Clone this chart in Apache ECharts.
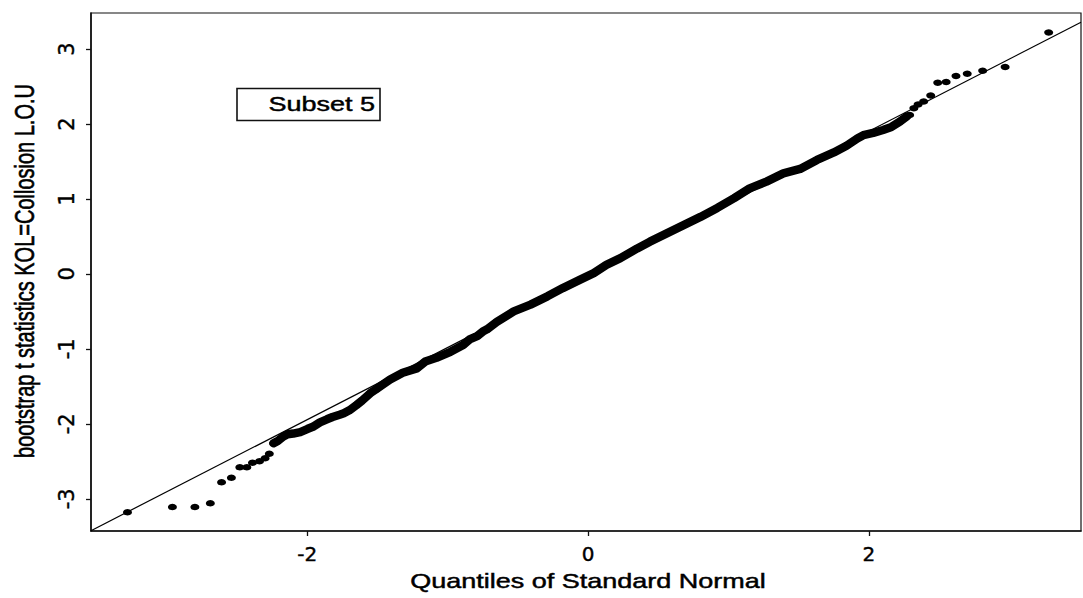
<!DOCTYPE html>
<html>
<head>
<meta charset="utf-8">
<title>Subset 5 – normal QQ plot</title>
<script src="https://cdn.jsdelivr.net/npm/echarts@6/dist/echarts.min.js"></script>
<style>
  html, body { margin: 0; padding: 0; background: #fff; }
  #chart { width: 1083px; height: 598px; }
</style>
</head>
<body>
<div id="chart"></div>
<script>
// Normal quantile plot of bootstrap t statistics (Subset 5).
// Lower tail: isolated points below the reference line.
const lowerX = [-3.28, -2.96, -2.80, -2.69, -2.61, -2.54, -2.48, -2.43, -2.39, -2.34, -2.30, -2.27];
const lowerY = [-3.18, -3.11, -3.11, -3.06, -2.78, -2.72, -2.58, -2.58, -2.52, -2.50, -2.46, -2.40];

// Central body: points so dense that they merge into a continuous band.
const bandX = [-2.24, -2.21, -2.17, -2.14, -2.10, -2.05, -2.00, -1.96, -1.91, -1.86,
               -1.82, -1.77, -1.74, -1.70, -1.65, -1.61, -1.55, -1.51, -1.48, -1.41,
               -1.32, -1.22, -1.16, -1.08, -0.98, -0.89, -0.84, -0.79, -0.75, -0.72,
               -0.65, -0.53, -0.41, -0.29, -0.18, -0.06, 0.04, 0.13, 0.23, 0.35,
               0.44, 0.56, 0.68, 0.80, 0.92, 1.04, 1.15, 1.27, 1.39, 1.51,
               1.63, 1.75, 1.84, 1.92, 1.96, 2.03, 2.10, 2.16, 2.22, 2.27];
const bandY = [-2.26, -2.23, -2.17, -2.14, -2.13, -2.11, -2.07, -2.04, -1.98, -1.94,
               -1.91, -1.88, -1.86, -1.82, -1.75, -1.69, -1.59, -1.54, -1.50, -1.41,
               -1.32, -1.26, -1.17, -1.12, -1.04, -0.95, -0.87, -0.83, -0.77, -0.74,
               -0.64, -0.50, -0.41, -0.30, -0.19, -0.08, 0.01, 0.12, 0.21, 0.34,
               0.43, 0.54, 0.65, 0.76, 0.88, 1.01, 1.14, 1.23, 1.34, 1.40,
               1.52, 1.62, 1.71, 1.81, 1.85, 1.88, 1.92, 1.96, 2.03, 2.10];

// Upper tail: isolated points above the reference line.
const upperX = [2.29, 2.32, 2.35, 2.39, 2.44, 2.49, 2.55, 2.62, 2.70, 2.81, 2.97, 3.28];
const upperY = [2.12, 2.21, 2.26, 2.30, 2.38, 2.55, 2.56, 2.64, 2.67, 2.71, 2.76, 3.22];

// Reference line through the quartiles (intercept, slope).
const refIntercept = -0.02;
const refSlope = 0.962;

// Axis extents and tick positions.
const xRange = [-3.54, 3.51];
const yRange = [-3.43, 3.48];
const xTicks = [-2, 0, 2];
const yTicks = [-3, -2, -1, 0, 1, 2, 3];

const xTitle = 'Quantiles of Standard Normal';
const yTitle = 'bootstrap t statistics KOL=Collosion L.O.U';
const panelLabel = 'Subset 5';

const pair = (xs, ys) => xs.map((x, i) => [x, ys[i]]);
const allPoints = pair(lowerX, lowerY).concat(pair(bandX, bandY), pair(upperX, upperY));
const refLine = xRange.map(x => [x, refIntercept + refSlope * x]);

const TEXT_FONT = '"Liberation Sans", Arial, Helvetica, sans-serif';
const TICK_FONT = '"DejaVu Sans", "Liberation Sans", sans-serif';
const STRETCH = 1.35;   // wide lettering, matching the wide plot symbols
const INK = '#000';

const titleStyle = (text, align) => ({
  text: text, font: '20px ' + TEXT_FONT, fill: INK,
  stroke: INK, lineWidth: 0.45,
  textAlign: align, textVerticalAlign: 'middle'
});

const chart = echarts.init(document.getElementById('chart'), null, { renderer: 'svg' });

chart.setOption({
  animation: false,
  backgroundColor: '#ffffff',
  grid: {
    left: 91, right: 2, top: 13, bottom: 67,
    show: true, borderColor: '#111', borderWidth: 1.2, backgroundColor: 'transparent'
  },
  xAxis: {
    type: 'value', min: xRange[0], max: xRange[1],
    axisLine: { show: true, onZero: false, lineStyle: { color: '#111', width: 1.6 } },
    axisTick: { show: true, inside: false, length: 5, customValues: xTicks, lineStyle: { color: '#111', width: 1.3 } },
    axisLabel: { show: true, customValues: xTicks, margin: 13, color: INK,
                 fontFamily: TICK_FONT, fontSize: 20,
                 textBorderColor: INK, textBorderWidth: 0.4 },
    splitLine: { show: false }
  },
  yAxis: {
    type: 'value', min: yRange[0], max: yRange[1],
    axisLine: { show: true, onZero: false, lineStyle: { color: '#111', width: 1.6 } },
    axisTick: { show: true, inside: false, length: 5, customValues: yTicks, lineStyle: { color: '#111', width: 1.3 } },
    axisLabel: { show: true, customValues: yTicks, rotate: 90, margin: 14, color: INK,
                 fontFamily: TICK_FONT, fontSize: 21,
                 textBorderColor: INK, textBorderWidth: 0.4 },
    splitLine: { show: false }
  },
  series: [
    {
      name: 'reference', type: 'line', data: refLine, symbol: 'none',
      lineStyle: { color: INK, width: 1.2 }, silent: true, z: 2
    },
    {
      name: 'band', type: 'line', data: pair(bandX, bandY), symbol: 'none',
      lineStyle: { color: INK, width: 8.5, cap: 'round', join: 'round' }, silent: true, z: 3
    },
    {
      name: 'points', type: 'scatter', data: allPoints,
      symbol: 'circle', symbolSize: [9, 6.5],
      itemStyle: { color: INK, opacity: 1 }, silent: true, z: 4
    }
  ],
  graphic: [
    {
      type: 'text', x: 588, y: 581, scaleX: STRETCH,
      style: titleStyle(xTitle, 'center')
    },
    {
      type: 'text', x: 24, y: 271, rotation: Math.PI / 2, scaleY: STRETCH,
      style: titleStyle(yTitle, 'center')
    },
    {
      type: 'rect', shape: { x: 237, y: 88.5, width: 143, height: 32 },
      style: { fill: '#fff', stroke: '#111', lineWidth: 1.6 }
    },
    {
      type: 'text', x: 375, y: 104, scaleX: STRETCH,
      style: titleStyle(panelLabel, 'right')
    }
  ]
});
</script>
</body>
</html>
